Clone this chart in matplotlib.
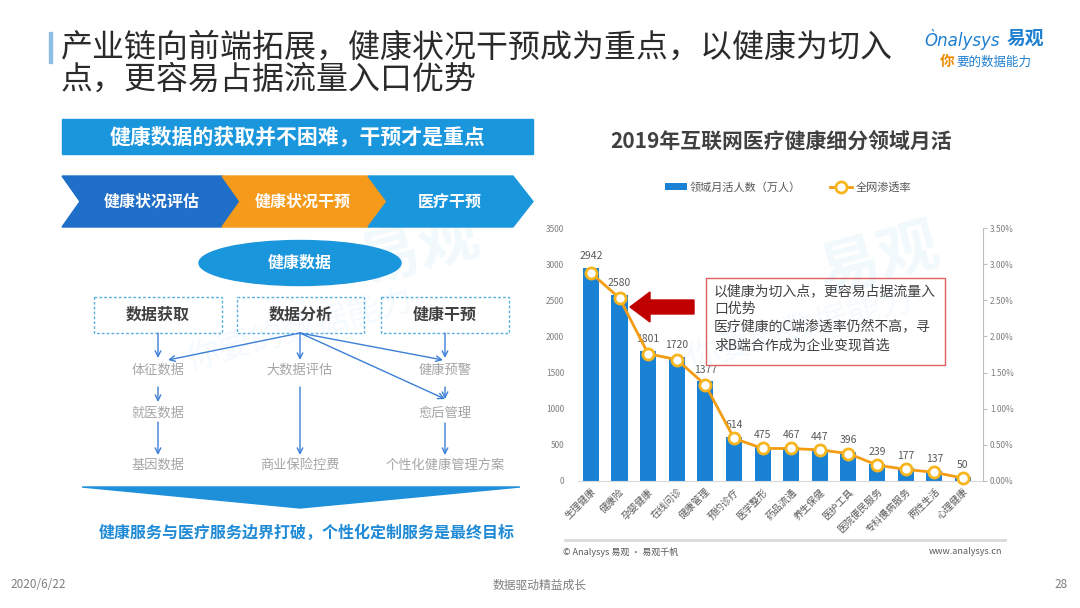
import matplotlib
matplotlib.use('Agg')
import matplotlib.pyplot as plt
import matplotlib.patches as mpatches
from matplotlib.ticker import FuncFormatter
import numpy as np

plt.rcParams['font.family'] = ['Noto Sans CJK SC', 'DejaVu Sans']

# ---------------------------------------------------------------------
# Data
# ---------------------------------------------------------------------
categories = ['生理健康', '健康险', '孕婴健康', '在线问诊', '健康管理', '预约诊疗',
              '医学整形', '药品流通', '养生保健', '医护工具', '医院便民服务',
              '专科慢病服务', '两性生活', '心理健康']
mau = [2942, 2580, 1801, 1720, 1377, 614, 475, 467, 447, 396, 239, 177, 137, 50]  # 万人
rate = [2.88, 2.53, 1.76, 1.68, 1.33, 0.59, 0.45, 0.45, 0.43, 0.38, 0.22, 0.16, 0.12, 0.04]  # %
left_ticks = [0, 500, 1000, 1500, 2000, 2500, 3000, 3500]
right_ticks = [0, 0.5, 1.0, 1.5, 2.0, 2.5, 3.0, 3.5]

# colours
BLUE = '#1A96DC'
DBLUE = '#1F6EC8'
ORANGE = '#F59A1B'
BAR = '#1A82D4'
LINE = '#F39C12'
GREY = '#595959'

fig = plt.figure(figsize=(10.8, 6.08), dpi=100)
fig.patch.set_facecolor('white')

# ---------------------------------------------------------------------
# Chart
# ---------------------------------------------------------------------
ax = fig.add_axes([578 / 1080, 1 - 481 / 608, (983 - 578) / 1080, (481 - 228) / 608])
x = np.arange(len(categories))
bars = ax.bar(x, mau, width=0.56, color=BAR, zorder=2, label='领域月活人数（万人）')
ax.set_xlim(-0.45, 13.7)
ax.set_ylim(0, 3500)
ax.set_yticks(left_ticks)
ax.tick_params(axis='y', length=0, labelsize=6, labelcolor='#7f7f7f', pad=10)
ax.set_xticks(x)
ax.set_xticklabels(categories, rotation=45, ha='right', rotation_mode='anchor',
                   fontsize=7, color=GREY)
ax.tick_params(axis='x', length=0, pad=4)
for s in ['left', 'top', 'right']:
    ax.spines[s].set_visible(False)
ax.spines['bottom'].set_color('#d9d9d9')
ax.patch.set_alpha(0)

for i, v in enumerate(mau):
    ax.annotate(str(v), (i, v), xytext=(0, 5), textcoords='offset points',
                ha='center', va='bottom', fontsize=7.5, color=GREY)

ax2 = ax.twinx()
line, = ax2.plot(x, rate, color=LINE, lw=2, marker='o', ms=8, mfc='white',
                 mec='#F7B51E', mew=2, clip_on=False, zorder=3, label='全网渗透率')
ax2.set_ylim(0, 3.5)
ax2.set_yticks(right_ticks)
ax2.yaxis.set_major_formatter(FuncFormatter(lambda v, p: f'{v:.2f}%'))
ax2.tick_params(axis='y', length=3, color='#bfbfbf', labelsize=6, labelcolor='#7f7f7f', pad=2)
for s in ['left', 'top', 'bottom']:
    ax2.spines[s].set_visible(False)
ax2.spines['right'].set_color('#bfbfbf')

fig.legend(handles=[bars, line], loc='center', bbox_to_anchor=(788 / 1080, 1 - 187 / 608),
           ncol=2, frameon=False, fontsize=8, handlelength=2.0, handletextpad=0.3,
           columnspacing=2.6, labelcolor=GREY)

fig.text(781 / 1080, 1 - 141 / 608, '2019年互联网医疗健康细分领域月活', ha='center',
         va='center', fontsize=15, fontweight='bold', color='#404040')

# ---------------------------------------------------------------------
# Overlay in pixel coordinates (slide elements)
# ---------------------------------------------------------------------
ov = fig.add_axes([0, 0, 1, 1], facecolor='none')
ov.set_xlim(0, 1080)
ov.set_ylim(608, 0)
ov.axis('off')

# faint watermarks
ov.text(420, 250, '易观', fontsize=44, color=BLUE, alpha=0.06, rotation=15,
        fontweight='bold', ha='center', va='center')
ov.text(880, 260, '易观', fontsize=44, color=BLUE, alpha=0.06, rotation=15,
        fontweight='bold', ha='center', va='center')
ov.text(300, 330, '你要的数据能力', fontsize=24, color=BLUE, alpha=0.05, rotation=15,
        ha='center', va='center')
ov.text(800, 330, '你要的数据能力', fontsize=24, color=BLUE, alpha=0.05, rotation=15,
        ha='center', va='center')

# header
ov.add_patch(mpatches.Rectangle((49, 32), 3, 31, color='#8cbfe3'))
ov.text(61, 48, '产业链向前端拓展，健康状况干预成为重点，以健康为切入', fontsize=23,
        color='#2b2b2b', va='center', ha='left')
ov.text(61, 80, '点，更容易占据流量入口优势', fontsize=23, color='#2b2b2b',
        va='center', ha='left')

# logo
ov.text(924, 39, 'Ònalysys', fontsize=12, color='#1F7FD0', style='italic',
        va='center', ha='left', family='DejaVu Sans')
ov.text(1007, 38, '易观', fontsize=13.5, color='#1F7FD0', fontweight='bold',
        va='center', ha='left')
ov.text(940, 61, '你', fontsize=10.5, color='#F08A00', fontweight='bold', va='center', ha='left')
ov.text(956, 62, '要的数据能力', fontsize=9, color='#1F7FD0',
        va='center', ha='left')

# banner
ov.add_patch(mpatches.Rectangle((62, 119), 471, 35, color=BLUE))
ov.text(297, 137, '健康数据的获取并不困难，干预才是重点', fontsize=15,
        fontweight='bold', color='white', ha='center', va='center')

# chevrons
chev = [
    ([(62, 176), (222, 176), (240, 201.5), (222, 227), (62, 227), (80, 201.5)], DBLUE, '健康状况评估', 152),
    ([(222, 176), (368, 176), (387, 201.5), (368, 227), (222, 227), (240, 201.5)], ORANGE, '健康状况干预', 303),
    ([(368, 176), (513, 176), (533, 201.5), (513, 227), (368, 227), (387, 201.5)], BLUE, '医疗干预', 450),
]
for pts, c, t, cx in chev:
    ov.add_patch(mpatches.Polygon(pts, closed=True, color=c))
    ov.text(cx, 202, t, fontsize=11.5, fontweight='bold', color='white', ha='center', va='center')

# ellipse
ov.add_patch(mpatches.Ellipse((300, 263), 202, 45, color=BLUE))
ov.text(300, 263, '健康数据', fontsize=11.5, fontweight='bold', color='white',
        ha='center', va='center')

# dashed boxes
boxes = [(94, 222, '数据获取'), (237, 364, '数据分析'), (381, 509, '健康干预')]
for x0, x1, t in boxes:
    ov.add_patch(mpatches.Rectangle((x0, 297), x1 - x0, 36, fill=False, edgecolor='#5AB0E0',
                                    lw=1, linestyle=(0, (2, 1.5))))
    ov.text((x0 + x1) / 2, 315, t, fontsize=11.5, fontweight='bold', color='#404040',
            ha='center', va='center')

items = [(158, 370, '体征数据'), (158, 413, '就医数据'), (158, 465, '基因数据'),
         (300, 370, '大数据评估'), (300, 465, '商业保险控费'),
         (445, 370, '健康预警'), (445, 413, '愈后管理'), (445, 465, '个性化健康管理方案')]
for cx, cy, t in items:
    ov.text(cx, cy, t, fontsize=9.5, color='#a6a6a6', ha='center', va='center')

arrows = [((158, 333), (158, 358)), ((158, 387), (158, 402)), ((158, 422), (158, 455)),
          ((300, 333), (168, 360)), ((300, 333), (300, 360)), ((300, 333), (443, 360)),
          ((300, 333), (445, 399)), ((300, 387), (300, 455)),
          ((445, 333), (445, 358)), ((445, 387), (445, 399)), ((445, 423), (445, 455))]
for a, b in arrows:
    ov.annotate('', xy=b, xytext=a,
                arrowprops=dict(arrowstyle='->', color='#3C7FD6', lw=1,
                                shrinkA=0, shrinkB=0, mutation_scale=10))

# big down arrow and bottom message
ov.add_patch(mpatches.Polygon([(82, 487), (520, 487), (300, 508)], closed=True, color='#1E90DA'))
ov.text(307, 533, '健康服务与医疗服务边界打破，个性化定制服务是最终目标', fontsize=11.5,
        fontweight='bold', color='#1F8AD6', ha='center', va='center')

# annotation on chart
ov.add_patch(mpatches.Rectangle((706, 278), 239, 87, facecolor='white',
                                edgecolor='#E06060', lw=1))
ov.text(714, 284, '以健康为切入点，更容易占据流量入\n口优势\n医疗健康的C端渗透率仍然不高，寻\n求B端合作成为企业变现首选',
        fontsize=10, color='#404040', ha='left', va='top', linespacing=1.38)
ov.add_patch(mpatches.FancyArrow(694, 307, -64, 0, width=14, head_width=30, head_length=20,
                                 length_includes_head=True, color='#C00000'))

# chart footer
ov.plot([565, 1005], [540, 540], color='#d9d9d9', lw=2)
ov.text(563, 552, '© Analysys 易观 · 易观千帆', fontsize=6.5, color=GREY, ha='left', va='center')
ov.text(1002, 552, 'www.analysys.cn', fontsize=6.5, color=GREY, ha='right', va='center')

# slide footer
ov.text(10, 585, '2020/6/22', fontsize=8.5, color='#7f7f7f', ha='left', va='center')
ov.text(540, 585, '数据驱动精益成长', fontsize=8.5, color='#7f7f7f', ha='center', va='center')
ov.text(1068, 585, '28', fontsize=8.5, color='#7f7f7f', ha='right', va='center')

fig.savefig('out.png', dpi=100)
